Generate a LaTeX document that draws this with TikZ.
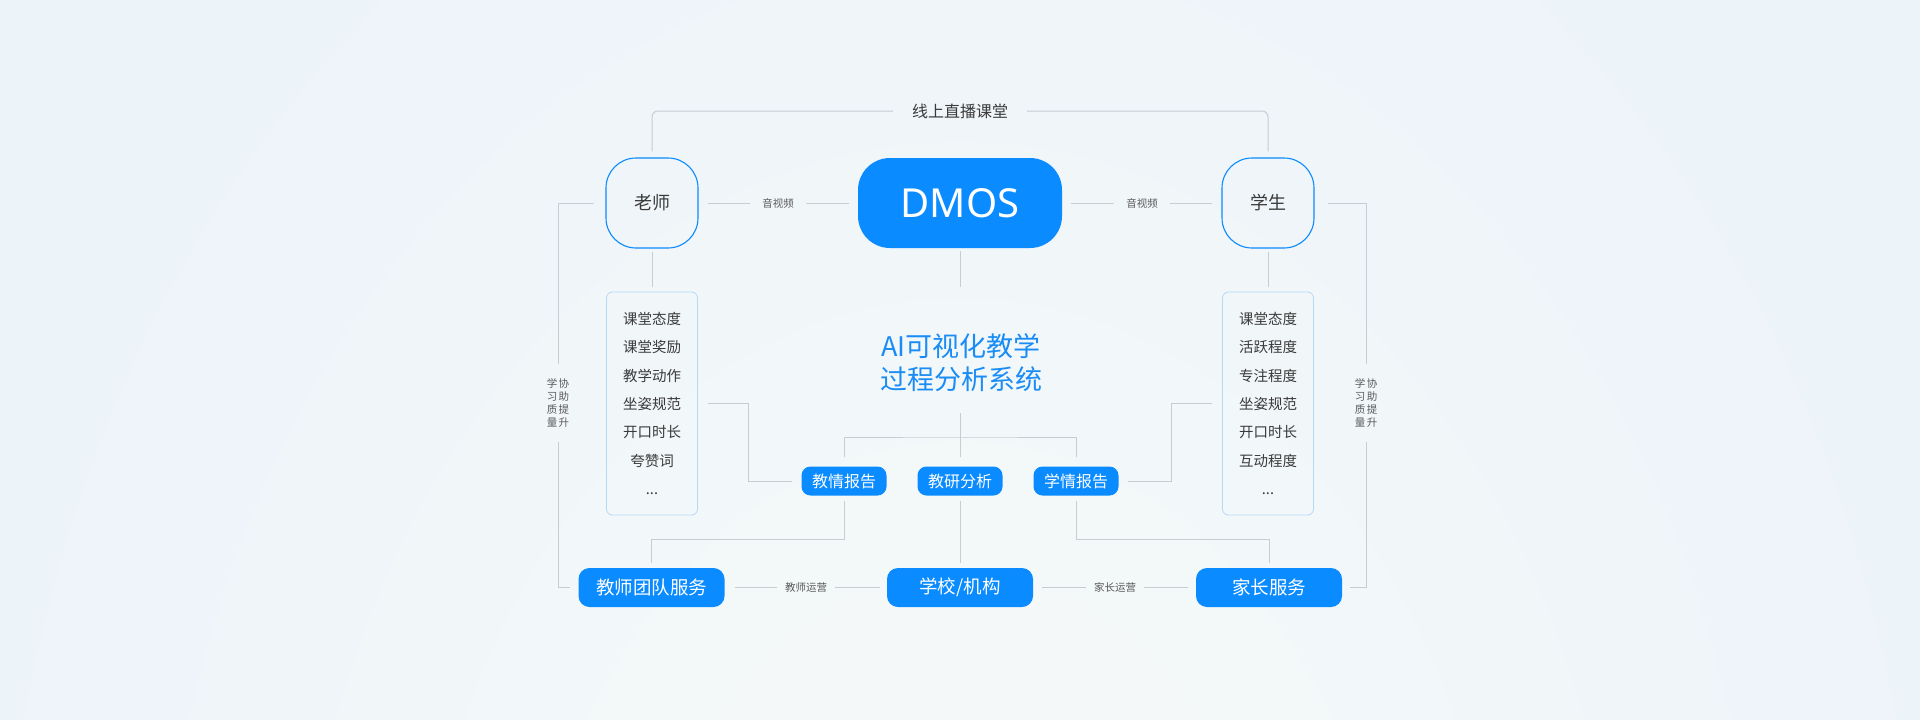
\documentclass[tikz,border=0pt]{standalone}
\usepackage{fontspec}
\setmainfont{Noto Sans CJK SC}
\newfontfamily\latinfont{Noto Sans}
\usetikzlibrary{calc}
\definecolor{bgc}{HTML}{ECF3F9}
\definecolor{bluec}{HTML}{0A8BFF}
\definecolor{linec}{HTML}{C8CDD3}
\definecolor{panelc}{HTML}{B5D8F7}
\definecolor{txtc}{HTML}{3A3A3A}
\definecolor{lblc}{HTML}{5A5A5A}
\definecolor{titlec}{HTML}{1A8CF5}
\begin{document}
\begin{tikzpicture}[x=1pt,y=-1pt,
  conn/.style={draw=linec, line width=1pt},
  person/.style={draw=bluec, line width=1.1pt, rounded corners=30pt, minimum width=92pt, minimum height=90pt, inner sep=0pt, text=txtc, font=\fontsize{18}{20}\selectfont},
  dmosbox/.style={fill=bluec, rounded corners=32pt, minimum width=204pt, minimum height=90pt, inner sep=0pt, text=white, font=\latinfont\fontsize{40}{44}\selectfont},
  panel/.style={draw=panelc, line width=0.8pt, rounded corners=6pt, minimum width=91pt, minimum height=223pt, inner sep=0pt, align=center, text=txtc, font=\fontsize{14.5}{28.3}\selectfont},
  pill/.style={fill=bluec, rounded corners=9pt, minimum width=85pt, minimum height=29pt, inner sep=0pt, text=white, font=\fontsize{16}{18}\selectfont},
  bigpill/.style={fill=bluec, rounded corners=11pt, minimum width=146pt, minimum height=39pt, inner sep=0pt, text=white, font=\fontsize{18.5}{20}\selectfont},
  lbl/.style={inner ysep=0pt, text=lblc, font=\fontsize{10.5}{12}\selectfont},
  sidelbl/.style={inner sep=0pt, minimum height=77pt, align=center, text=lblc, font=\fontsize{10.5}{13.3}\selectfont}
]
% background
\useasboundingbox (0,0) rectangle (1920,720);
\fill[bgc] (0,0) rectangle (1920,720);
\begin{scope}
\clip (0,0) rectangle (1920,720);
\foreach \r in {960,800,660,540,430,330} {
  \fill[white, opacity=0.13] (960,1000) ellipse [x radius=\r, y radius=1.3*\r];
}
\end{scope}

% main nodes
\node[person] (t) at (652,203) {老师};
\node[dmosbox] (d) at (960,203) {DMOS};
\node[person] (s) at (1268,203) {学生};

\node[inner ysep=0pt, inner xsep=19pt, text=txtc, font=\fontsize{16}{18}\selectfont] (lt) at (960,111) {线上直播课堂};

\node[lbl, inner xsep=12pt] (av1) at (778,203) {音视频};
\node[lbl, inner xsep=12pt] (av2) at (1142,203) {音视频};

\node[panel] (pl) at (652,403.5) {课堂态度\\课堂奖励\\教学动作\\坐姿规范\\开口时长\\夸赞词\\...};
\node[panel] (pr) at (1268,403.5) {课堂态度\\活跃程度\\专注程度\\坐姿规范\\开口时长\\互动程度\\...};

\node[inner sep=0pt, align=center, text=titlec, font=\fontsize{27}{33}\selectfont] (ai) at (961,363) {AI可视化教学\\过程分析系统};
\coordinate (dm1) at (960,287);
\coordinate (ai2) at (960,413);
\coordinate (hub) at (960,437);

\node[pill] (jq) at (844,481) {教情报告};
\node[pill] (yf) at (960,481) {教研分析};
\node[pill] (xq) at (1076,481) {学情报告};

\node[bigpill] (tb) at (651.5,587.5) {教师团队服务};
\node[bigpill] (xx) at (960,587.5) {学校/机构};
\node[bigpill] (jz) at (1269,587.5) {家长服务};

\node[lbl, inner xsep=8pt] (op1) at (806,587.5) {教师运营};
\node[lbl, inner xsep=8pt] (op2) at (1115,587.5) {家长运营};

\node[sidelbl] (sl) at (558,403) {学\hspace{1.5pt}协\\习\hspace{1.5pt}助\\质\hspace{1.5pt}提\\量\hspace{1.5pt}升};
\node[sidelbl] (sr) at (1366,403) {学\hspace{1.5pt}协\\习\hspace{1.5pt}助\\质\hspace{1.5pt}提\\量\hspace{1.5pt}升};

% connectors
\draw[conn, rounded corners=6pt, shorten <=6pt] (t.north) |- (lt.west);
\draw[conn, rounded corners=6pt, shorten <=6pt] (s.north) |- (lt.east);

\draw[conn, shorten <=9pt] (t.east) -- (av1.west);
\draw[conn, shorten >=9pt] (av1.east) -- (d.west);
\draw[conn, shorten <=9pt] (d.east) -- (av2.west);
\draw[conn, shorten >=9pt] (av2.east) -- (s.west);

\draw[conn, shorten <=3pt, shorten >=5pt] (t.south) -- (pl.north);
\draw[conn, shorten <=3pt, shorten >=5pt] (s.south) -- (pr.north);
\draw[conn, shorten <=3pt] (d.south) -- (dm1);

\draw[conn, shorten >=9pt] (ai2) -- (yf.north);
\draw[conn, shorten <=9pt, shorten >=9pt] (jq.north) |- (hub) -| (xq.north);

\draw[conn, shorten <=10pt, shorten >=9pt] (pl.east) -- ++(51,0) |- (jq.west);
\draw[conn, shorten <=10pt, shorten >=9pt] (pr.west) -- ++(-51,0) |- (xq.east);

\draw[conn, shorten <=5pt, shorten >=5pt] (jq.south) -- ++(0,44) -| (tb.north);
\draw[conn, shorten <=5pt, shorten >=5pt] (yf.south) -- (xx.north);
\draw[conn, shorten <=5pt, shorten >=5pt] (xq.south) -- ++(0,44) -| (jz.north);

\draw[conn, shorten <=10pt] (tb.east) -- (op1.west);
\draw[conn, shorten >=7pt] (op1.east) -- (xx.west);
\draw[conn, shorten <=9pt] (xx.east) -- (op2.west);
\draw[conn, shorten >=8pt] (op2.east) -- (jz.west);

\draw[conn, shorten <=11pt] (t.west) -| (sl.north);
\draw[conn, shorten >=8pt] (sl.south) |- (tb.west);
\draw[conn, shorten <=13pt] (s.east) -| (sr.north);
\draw[conn, shorten >=8pt] (sr.south) |- (jz.east);
\end{tikzpicture}
\end{document}
